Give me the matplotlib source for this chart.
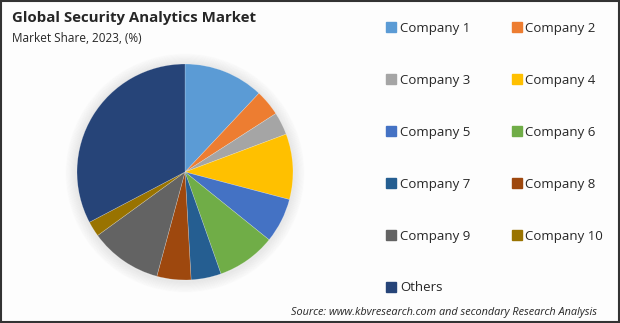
import matplotlib.pyplot as plt
from matplotlib.patches import Rectangle, Circle
from matplotlib.lines import Line2D

labels = ["Company 1", "Company 2", "Company 3", "Company 4", "Company 5",
          "Company 6", "Company 7", "Company 8", "Company 9", "Company 10", "Others"]
shares = [12.0, 3.9, 3.4, 9.8, 6.7, 8.8, 4.5, 5.1, 10.8, 2.3, 32.7]
colors = ["#5B9BD5", "#ED7D31", "#A5A5A5", "#FFC000", "#4472C4", "#70AD47",
          "#255E91", "#9E480E", "#636363", "#997300", "#264478"]

plt.rcParams['font.family'] = ['Open Sans', 'DejaVu Sans']

fig = plt.figure(figsize=(6.2, 3.23), dpi=100)
fig.patch.set_facecolor("#FDFDFD")

# thin frame around the picture
fig.add_artist(Rectangle((0.0015, 0.003), 0.997, 0.994, transform=fig.transFigure,
                         fill=False, edgecolor="#333333", linewidth=1.5))

fig.text(12/620, 1 - 18/323, "Global Security Analytics Market", fontsize=10.8,
         fontweight="bold", color="#262626", va="center", ha="left")
fig.text(12/620, 1 - 38/323, "Market Share, 2023, (%)", fontsize=8.5,
         color="#262626", va="center", ha="left")

# pie
cx, cy, r = 185, 172, 108
ax = fig.add_axes([(cx - r)/620, (323 - cy - r)/323, 2*r/620, 2*r/323])
ax.axis("off")

wedges, _ = ax.pie(shares, colors=colors, startangle=90, counterclock=False,
                   radius=1.0, wedgeprops=dict(linewidth=0.4, edgecolor="#FFFFFF55"))

# soft shadow
for k in range(10):
    ax.add_patch(Circle((0, -0.01), 1.0 + 0.01*(k+1), color="#000000",
                        alpha=0.007, zorder=0, clip_on=False))

ax.set_xlim(-1, 1)
ax.set_ylim(-1, 1)
ax.set_aspect("equal")

# legend, filled row by row
handles = [Line2D([0], [0], marker="s", linestyle="", markersize=7.5,
                  markerfacecolor=c, markeredgecolor=c) for c in colors]
col1 = list(range(0, len(labels), 2))
col2 = list(range(1, len(labels), 2))
order = col1 + col2
leg = fig.legend([handles[i] for i in order], [labels[i] for i in order],
                 ncol=2, loc="upper left", bbox_to_anchor=(373/620, 1 - 10/323),
                 frameon=False, fontsize=9.5, labelspacing=2.95, columnspacing=3.0,
                 handletextpad=0.15, handlelength=1.0, labelcolor="#262626")

fig.text(597/620, 1 - 312/323,
         "Source: www.kbvresearch.com and secondary Research Analysis",
         fontsize=7.8, style="italic", color="#262626", ha="right", va="center")

fig.savefig("out.png", dpi=100, facecolor=fig.get_facecolor())
